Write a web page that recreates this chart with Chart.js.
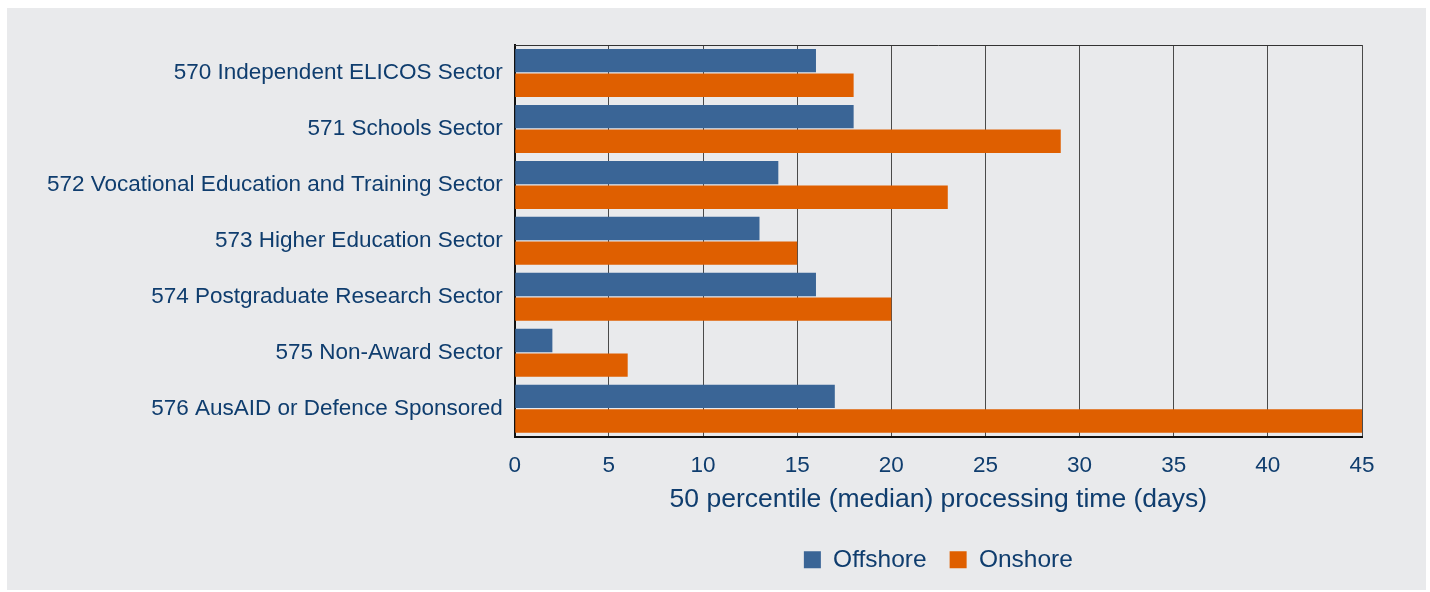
<!DOCTYPE html>
<html>
<head>
<meta charset="utf-8">
<script src="https://cdn.jsdelivr.net/npm/chart.js@4"></script>
<style>
  body { margin: 0; background: #ffffff; }
  #panel { position: absolute; left: 7px; top: 8px; width: 1419px; height: 582px; background: #e9eaec; }
</style>
</head>
<body>
<div id="panel"><canvas id="myChart" width="1419" height="582"></canvas></div>
<script>
const sectors = [
  "570 Independent ELICOS Sector",
  "571 Schools Sector",
  "572 Vocational Education and Training Sector",
  "573 Higher Education Sector",
  "574 Postgraduate Research Sector",
  "575 Non-Award Sector",
  "576 AusAID or Defence Sponsored",
];
const offshore = [16, 18, 14, 13, 16, 2, 17];
const onshore = [18, 29, 23, 15, 20, 6, 45];

const textColor = "#0f3d6e";

// box around the plot: top line (left/bottom/right come from the axes)
const frame = {
  id: "frame",
  afterDatasetsDraw(chart) {
    const { ctx, chartArea } = chart;
    ctx.save();
    ctx.strokeStyle = "#333333";
    ctx.lineWidth = 1;
    ctx.beginPath();
    ctx.moveTo(chartArea.left, chartArea.top + 0.5);
    ctx.lineTo(chartArea.right, chartArea.top + 0.5);
    ctx.stroke();
    ctx.restore();
  },
};

const ctx = document.getElementById("myChart");

new Chart(ctx, {
  type: "bar",
  data: {
    labels: sectors,
    datasets: [
      {
        label: "Offshore",
        data: offshore,
        backgroundColor: "#3a6596",
        categoryPercentage: 0.88,
        barPercentage: 0.95,
      },
      {
        label: "Onshore",
        data: onshore,
        backgroundColor: "#df5f00",
        categoryPercentage: 0.88,
        barPercentage: 0.95,
      },
    ],
  },
  plugins: [frame],
  options: {
    indexAxis: "y",
    responsive: false,
    animation: false,
    devicePixelRatio: 1,
    layout: { padding: { left: 28, right: 64, top: 37, bottom: 8 } },
    scales: {
      x: {
        min: 0,
        max: 45,
        ticks: {
          stepSize: 5,
          color: textColor,
          font: { family: "Liberation Sans", size: 22.5 },
          padding: 16,
        },
        grid: { color: "#4a4a4a", lineWidth: 1, drawTicks: false },
        border: { color: "#111111", width: 2 },
        title: {
          display: true,
          text: "50 percentile (median) processing time (days)",
          color: textColor,
          font: { family: "Liberation Sans", size: 26.5 },
          padding: { top: -12, bottom: 9 },
        },
      },
      y: {
        ticks: {
          color: textColor,
          font: { family: "Liberation Sans", size: 22.5 },
          padding: 12,
        },
        grid: { display: false, drawTicks: false },
        border: { color: "#111111", width: 2 },
      },
    },
    plugins: {
      legend: {
        position: "bottom",
        fullSize: false,
        labels: {
          color: textColor,
          boxWidth: 17,
          boxHeight: 17,
          padding: 23,
          font: { family: "Liberation Sans", size: 24.5 },
        },
      },
      tooltip: { enabled: false },
    },
  },
});
</script>
</body>
</html>
